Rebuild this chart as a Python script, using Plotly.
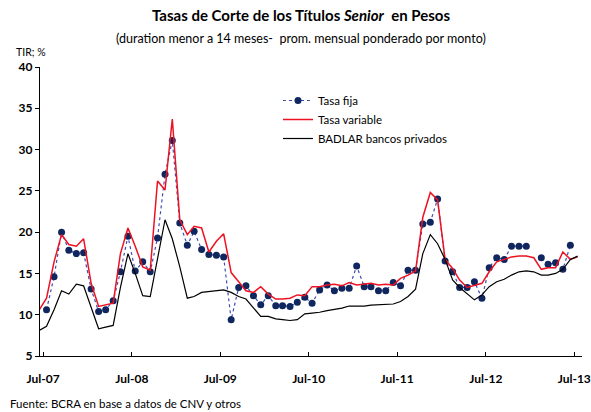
import pandas as pd
import plotly.graph_objects as go

# Months Jun-2007 .. Jul-2013 (plotted mid-month)
months = pd.date_range("2007-06-01", "2013-07-01", freq="MS")
x_dates = [d + pd.Timedelta(days=14) for d in months]

tasa_variable = [
    10.6, 12.0, 16.4, 19.7, 18.5, 18.3, 19.2, 13.8, 11.0, 11.2,
    11.4, 17.4, 20.5, 18.3, 15.8, 15.4, 26.2, 25.1, 33.7, 21.5,
    19.7, 20.7, 20.5, 17.6, 18.9, 19.8, 15.1, 14.0, 12.9, 12.7,
    13.4, 12.5, 11.9, 11.9, 12.0, 12.4, 12.3, 13.4, 13.4, 13.6,
    13.7, 13.5, 13.9, 13.6, 13.7, 13.8, 13.6, 13.7, 13.6, 14.4,
    14.8, 15.3, 21.8, 24.8, 23.9, 16.7, 15.6, 14.2, 13.3, 13.5,
    13.8, 15.2, 16.4, 16.7, 17.0, 17.1, 17.1, 16.9, 15.5, 15.7,
    15.7, 17.6, 16.7, 17.0,
]

badlar = [
    8.1, 8.6, 10.6, 12.9, 12.5, 13.7, 13.5, 11.0, 8.3, 8.5,
    8.7, 13.3, 17.4, 15.0, 12.3, 12.2, 16.8, 21.5, 19.2, 15.8,
    12.0, 12.2, 12.7, 12.8, 12.9, 13.0, 12.7, 12.2, 11.9, 10.9,
    9.8, 9.8, 9.5, 9.4, 9.3, 9.4, 10.1, 10.2, 10.3, 10.5,
    10.65, 10.8, 11.05, 11.05, 11.05, 11.15, 11.2, 11.2, 11.3, 11.6,
    12.2, 13.1, 17.4, 19.7, 18.6, 16.7, 14.2, 13.3, 12.5, 11.8,
    12.4, 13.4, 14.0, 14.3, 14.8, 15.2, 15.3, 15.2, 14.8, 14.8,
    15.0, 15.5, 16.7, 17.1,
]

# Tasa fija: Jul-2007 .. Jun-2013 (no data Jan-2013)
tasa_fija = [
    None,
    10.6, 14.6, 20.0, 17.8, 17.4, 17.5, 13.1, 10.4, 10.6, 11.7,
    15.2, 19.5, 15.3, 16.4, 15.2, 19.3, 27.0, 31.1, 21.1, 18.4,
    20.1, 17.9, 17.3, 17.2, 17.0, 9.4, 13.3, 13.5, 12.3, 11.2,
    12.3, 11.1, 11.1, 11.0, 11.5, 12.1, 11.4, 13.0, 13.6, 12.9,
    13.2, 13.2, 15.9, 13.4, 13.4, 12.9, 12.9, 13.9, 13.5, 15.4,
    15.4, 21.0, 21.2, 24.0, 16.5, 15.2, 13.3, 13.3, 14.0, 12.0,
    15.7, 16.9, 16.7, 18.3, 18.3, 18.3, None, 16.9, 16.1, 16.3,
    15.5, 18.4, None,
]

tick_dates = ["2007-07-01", "2008-07-01", "2009-07-01", "2010-07-01",
              "2011-07-01", "2012-07-01", "2013-07-01"]
tick_labels = ["Jul-07", "Jul-08", "Jul-09", "Jul-10", "Jul-11", "Jul-12", "Jul-13"]
y_ticks = [5, 10, 15, 20, 25, 30, 35, 40]

FONT = "Lato, 'Open Sans', sans-serif"

W, H = 591, 412
L, R, T, B = 40, 9, 67, 56
pw, ph = W - L - R, H - T - B


def px(xp):
    return (xp - L) / pw


def py(yp):
    return 1 - (yp - T) / ph


fig = go.Figure()
fig.add_trace(go.Scatter(
    x=x_dates, y=tasa_fija, name="Tasa fija", mode="lines+markers",
    line=dict(color="#3d4db0", width=1.2, dash="dot"),
    marker=dict(color="#10265e", size=7),
    connectgaps=False, legendgroup="a",
))
fig.add_trace(go.Scatter(
    x=x_dates, y=tasa_variable, name="Tasa variable", mode="lines",
    line=dict(color="#ee1122", width=1.5), legendgroup="b",
))
fig.add_trace(go.Scatter(
    x=x_dates, y=badlar, name="BADLAR bancos privados", mode="lines",
    line=dict(color="#000000", width=1.2), legendgroup="c",
))

fig.update_layout(
    width=W, height=H,
    margin=dict(l=L, r=R, t=T, b=B, autoexpand=False),
    paper_bgcolor="white", plot_bgcolor="white",
    font=dict(family=FONT, color="#000000", size=11),
    showlegend=True,
    legend=dict(
        x=px(278), y=py(86), xanchor="left", yanchor="top",
        bgcolor="rgba(0,0,0,0)", borderwidth=0,
        font=dict(family=FONT, size=11.5, color="#000000"),
        tracegroupgap=0, itemwidth=30,
    ),
    xaxis=dict(
        type="date",
        range=["2007-06-18", "2013-08-02"],
        tickvals=tick_dates, ticktext=tick_labels,
        ticks="inside", ticklen=4, tickcolor="#000000", tickwidth=1,
        showline=True, linecolor="#000000", linewidth=1.2,
        showgrid=False, zeroline=False,
        tickfont=dict(family=FONT, size=12, color="#000000", weight="bold"),
        ticklabelstandoff=11,
    ),
    yaxis=dict(
        range=[5, 40], tickvals=y_ticks,
        ticks="outside", ticklen=4, tickcolor="#000000", tickwidth=1,
        showline=True, linecolor="#000000", linewidth=1.2,
        showgrid=False, zeroline=False,
        tickfont=dict(family=FONT, size=12, color="#000000", weight="bold"),
    ),
)

fig.add_annotation(text="<b>Tasas de Corte de los Títulos <i>Senior</i>  en Pesos</b>",
                   xref="paper", yref="paper", x=px(301), y=py(15),
                   showarrow=False, xanchor="center", yanchor="middle",
                   font=dict(family=FONT, size=15, color="#000000"))
fig.add_annotation(text="(duration menor a 14 meses-  prom. mensual ponderado por monto)",
                   xref="paper", yref="paper", x=px(301), y=py(38),
                   showarrow=False, xanchor="center", yanchor="middle",
                   font=dict(family=FONT, size=12.5, color="#000000"))
fig.add_annotation(text="TIR; %",
                   xref="paper", yref="paper", x=px(14), y=py(52),
                   showarrow=False, xanchor="left", yanchor="middle",
                   font=dict(family=FONT, size=10.5, color="#000000"))
fig.add_annotation(text="Fuente: BCRA en base a datos de CNV y otros",
                   xref="paper", yref="paper", x=px(8), y=py(403),
                   showarrow=False, xanchor="left", yanchor="middle",
                   font=dict(family=FONT, size=11.5, color="#000000"))

fig.write_html(
    "out.html",
    config={"displayModeBar": False},
    post_script="document.body.style.margin='0';document.body.style.overflow='hidden';",
)
